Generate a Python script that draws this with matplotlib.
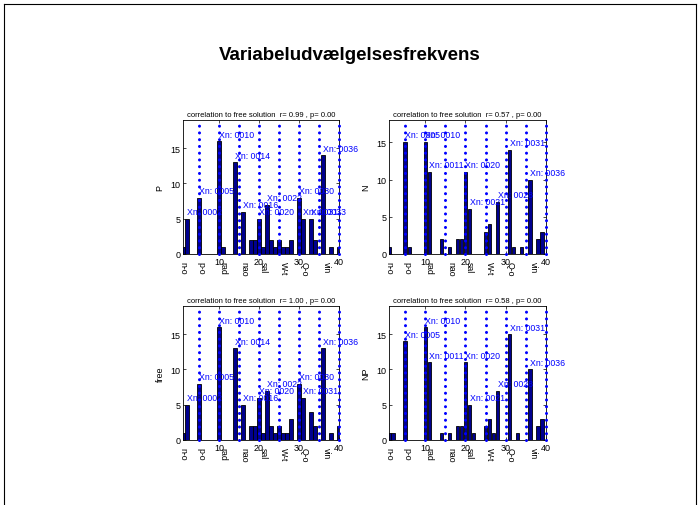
import matplotlib
matplotlib.use('Agg')
import matplotlib.pyplot as plt
import numpy as np
from matplotlib.lines import Line2D

plt.rcParams['font.family'] = ['Liberation Sans', 'DejaVu Sans']

# selection counts per variable (1..40) for each model
P = [1, 5, 0, 0, 8, 0, 0, 0, 0, 16,
     1, 0, 0, 13, 0, 6, 0, 2, 2, 5,
     1, 7, 2, 1, 2, 1, 1, 2, 0, 8,
     5, 0, 5, 2, 0, 14, 0, 1, 0, 1]
N = [1, 0, 0, 0, 15, 1, 0, 0, 0, 15,
     11, 0, 0, 2, 0, 1, 0, 2, 2, 11,
     6, 0, 0, 0, 3, 4, 0, 7, 0, 0,
     14, 1, 0, 1, 0, 10, 0, 2, 3, 0]
free = [1, 5, 0, 0, 8, 0, 0, 0, 0, 16,
        0, 0, 0, 13, 0, 5, 0, 2, 2, 6,
        1, 7, 2, 1, 2, 1, 1, 3, 0, 8,
        6, 0, 4, 2, 0, 13, 0, 1, 0, 2]
NP = [1, 1, 0, 0, 14, 0, 0, 0, 0, 16,
      11, 0, 0, 1, 0, 1, 0, 2, 2, 11,
      5, 1, 0, 0, 2, 3, 1, 7, 0, 0,
      15, 0, 1, 0, 0, 10, 0, 2, 3, 0]

names = ['P', 'N', 'free', 'NP']
r_vals = [0.99, 0.57, 1.00, 0.58]
p_vals = [0.00, 0.00, 0.00, 0.00]

group_names = ['n-o', 'p-o', 'rad', 'nao', 'sal', 'W-t', 'Q-o', 'vin']
group_pos = [1, 5.5, 11, 16.3, 21, 26, 31.2, 36.8]
group_edges = [5, 10, 15, 20, 25, 30, 35, 40]
label_min = 5

series = [P, N, free, NP]

fig = plt.figure(figsize=(7, 5.06), dpi=100)

# figure frame
for xs, ys in [([4, 4], [0, 501]), ([4, 696], [501, 501]), ([696, 696], [0, 501])]:
    fig.add_artist(Line2D(np.array(xs) / 700, np.array(ys) / 506,
                          color='k', lw=0.8))

fig.text(0.5, 1 - 56 / 506, 'Variabeludvælgelsesfrekvens',
         ha='center', va='center', fontsize=13.5, fontweight='bold')

# axes boxes in pixels: left, top, right, bottom
boxes = [(183, 121, 339, 255), (389, 121, 546, 255),
         (183, 307, 339, 441), (389, 307, 546, 441)]

x = np.arange(1, 41)
for name, vals, r, p, (l, t, rr, b) in zip(names, series, r_vals, p_vals, boxes):
    ax = fig.add_axes([l / 700, 1 - b / 506, (rr - l) / 700, (b - t) / 506])
    vals = np.array(vals)
    ax.bar(x, vals, width=0.8, color=(0, 0, 0.5625), edgecolor='k',
           linewidth=0.6, zorder=2)
    for e in group_edges:
        ax.axvline(e, color=(0, 0, 1), lw=2.2, ls=(0, (0.01, 2.2)),
                   dash_capstyle='round', zorder=3, clip_on=False)
    for xi, v in zip(x, vals):
        if v >= label_min:
            ax.text(xi, v + 1, f'Xn: {xi:04d}', color=(0, 0, 1),
                    fontsize=6.3, ha='left', va='center', zorder=4)
    ax.set_xlim(1, 40)
    ax.set_ylim(0, vals.max() + 3)
    ax.set_xticks([10, 20, 30, 40])
    ax.set_yticks([0, 5, 10, 15])
    ax.tick_params(direction='in', length=2.5, width=0.5, labelsize=6.5,
                   top=True, right=True, pad=2)
    for s in ax.spines.values():
        s.set_linewidth(0.6)
    ax.set_ylabel(name, fontsize=6.5, labelpad=4)
    ax.set_title(f'correlation to free solution  r= {r:.2f} , p= {p:.2f}',
                 fontsize=5.5, pad=3)
    for gx, gn in zip(group_pos, group_names):
        ax.text(gx, -0.05, gn, transform=ax.get_xaxis_transform(),
                rotation=-90, ha='center', va='top', fontsize=6.3)

fig.savefig('out.png', dpi=100)
